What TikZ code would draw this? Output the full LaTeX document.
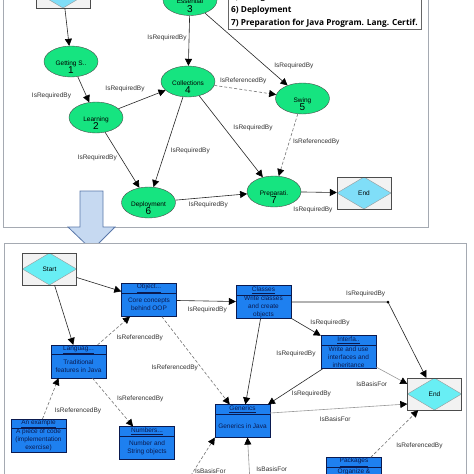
\documentclass[tikz,border=0pt]{standalone}
\usepackage{fontspec}
\setmainfont{Liberation Sans}
\newfontfamily\legendfont{Open Sans}
\usetikzlibrary{arrows.meta,shapes.geometric,shapes.multipart}

\definecolor{topicgreen}{RGB}{22,228,128}
\definecolor{conceptblue}{RGB}{30,128,240}
\definecolor{conceptline}{RGB}{10,26,80}
\definecolor{topcyan}{RGB}{128,222,248}
\definecolor{botcyan}{RGB}{104,238,244}
\definecolor{arrowfill}{RGB}{198,217,241}
\definecolor{arrowline}{RGB}{90,120,170}
\definecolor{panelline}{RGB}{165,170,178}

% two-line text of a topic oval: name, then its number
\newcommand\ovaltext[2]{\smash{\makebox[0pt]{\raisebox{-3.5pt}{\begin{tabular}[t]{@{}c@{}}#1\\[-0.5pt]{\fontsize{10}{10}\selectfont #2}\end{tabular}}}}}
% parts of a concept box
\newcommand\ctitle[1]{\parbox[c][9pt][c]{55pt}{\centering\underline{#1}}}
\newcommand\cbody[1]{\parbox[c][23pt][c]{55pt}{\centering #1}}

\begin{document}
\begin{tikzpicture}[x=1pt, y=-1pt,
		font=\fontsize{6.5}{8}\selectfont,
		every node/.style={
				font=\fontsize{6.5}{8}\selectfont,
			},
		>={Triangle[length=7pt,width=7pt,color=black]},
		topic/.style={ellipse, draw=black!70, fill=topicgreen, minimum width=54pt, minimum height=31pt, inner sep=0pt},
		concept/.style={rectangle split, rectangle split parts=2, draw=conceptline, fill=conceptblue, text=conceptline, inner sep=0pt},
		terminal/.style={draw=black!70, fill=black!5, minimum width=54pt, minimum height=32pt, inner sep=0pt,
				path picture={\draw[black!40, fill=#1] (path picture bounding box.north) -- (path picture bounding box.east) -- (path picture bounding box.south) -- (path picture bounding box.west) -- cycle;}},
		lbl/.style={text=black!80, inner sep=0pt},
		req/.style={->, black!85, line width=0.6pt},
		refd/.style={->, black!55, line width=0.6pt, dash pattern=on 3pt off 2pt},
		basis/.style={->, black!40, line width=0.6pt},
	]
	\useasboundingbox (0,0) rectangle (474,474);

	% upper panel: topics
	\draw[panelline, fill=white, line width=0.8pt] (3,-10) rectangle (428,227);
	\node[draw=black!60, fill=white, anchor=south west, align=left, inner xsep=3pt, inner ysep=1.5pt,
		font=\legendfont\bfseries\fontsize{8.3}{13}\selectfont] (legend) at (228,29)
	{5) Swing\\6) Deployment\\7) Preparation for Java Program. Lang. Certif.};

	\node[terminal=topcyan] (startA) at (63,-8) {};
	\node[topic] (gs) at (71,61.5) {\ovaltext{Getting S..}{1}};
	\node[topic] (ess) at (190,0) {\ovaltext{Essential}{3}};
	\node[topic] (coll) at (188,81.5) {\ovaltext{Collections}{4}};
	\node[topic] (lrn) at (96,117.5) {\ovaltext{Learning}{2}};
	\node[topic] (swing) at (302.5,98.5) {\ovaltext{Swing}{5}};
	\node[topic] (dep) at (148.5,202.5) {\ovaltext{Deployment}{6}};
	\node[topic] (prep) at (274,191.5) {\ovaltext{Preparati.}{7}};
	\node[terminal=topcyan] (endA) at (364,193) {End};

	\draw[req] (startA) -- (gs);
	\draw[req] (ess) -- node[lbl, shift={(-22,-3)}] {IsRequiredBy} (coll);
	\draw[req] (ess) -- node[lbl, pos=.75, shift={(27,-2)}] {IsRequiredBy} (swing);
	\draw[req] (gs) -- node[lbl, shift={(-32,6.5)}] {IsRequiredBy} (lrn);
	\draw[req] (lrn) -- node[lbl, shift={(-17,-10.5)}] {IsRequiredBy} (coll);
	\draw[refd] (coll) -- node[lbl, shift={(-2,-9)}] {IsReferencedBy} (swing);
	\draw[req] (coll) -- node[lbl, shift={(22,9)}] {IsRequiredBy} (dep);
	\draw[req] (coll) -- node[lbl, shift={(22,-8.5)}] {IsRequiredBy} (prep);
	\draw[req] (lrn) -- node[lbl, shift={(-25,-2)}] {IsRequiredBy} (dep);
	\draw[refd] (swing) -- node[lbl, shift={(28,-3)}] {IsReferencedBy} (prep);
	\draw[req] (dep) -- node[lbl, shift={(-3,8)}] {IsRequiredBy} (prep);
	\draw[req] (prep) -- node[lbl, shift={(-6,18)}] {IsRequiredBy} (endA);

	% big arrow between the panels
	\draw[arrowline, fill=arrowfill, line width=0.8pt] (80,191) -- (103,191) -- (103,227) -- (115,227) -- (92,250) -- (68,227) -- (80,227) -- cycle;

	% lower panel: concepts
	\draw[panelline, fill=white, line width=0.8pt] (4,243) rectangle (466,490);

	\node[terminal=botcyan] (startB) at (49.5,269) {Start};
	\node[concept] (obj) at (149,300) {\ctitle{Object...}\nodepart{two}\cbody{Core concepts\\behind OOP}};
	\node[concept] (cls) at (263.5,302) {\ctitle{Classes}\nodepart{two}\cbody{Write classes\\and create\\objects}};
	\node[concept] (intf) at (348.5,352) {\ctitle{Interfa..}\nodepart{two}\cbody{Write and use\\interfaces and\\inheritance}};
	\node[concept] (lang) at (78.5,361.5) {\ctitle{Languag...}\nodepart{two}\cbody{Traditional\\features in Java}};
	\node[concept] (ex) at (38.5,435.5) {\ctitle{An example}\nodepart{two}\cbody{A piece of code\\(implementation\\exercise)}};
	\node[concept] (num) at (147,443) {\ctitle{Numbers...}\nodepart{two}\cbody{Number and\\String objects}};
	\node[concept] (gen) at (242.5,421) {\ctitle{Generics}\nodepart{two}\cbody{Generics in Java}};
	\node[concept] (pkg) at (354,474) {\ctitle{Packages}\nodepart{two}\cbody{Organize \&\\\mbox{}\\\mbox{}}};
	\node[terminal=botcyan] (endB) at (434.5,394) {End};

	\coordinate (knee) at (388,302);
	\coordinate (srcA) at (188,480);
	\coordinate (srcB) at (250,482);

	\draw[req] (startB) -- (obj);
	\draw[req] (startB) -- (lang);
	\draw[req] (obj) -- node[lbl, shift={(1,9)}] {IsRequiredBy} (cls);
	\draw[refd] (lang) -- node[lbl, shift={(26,7)}] {IsReferencedBy} (obj);
	\draw[refd] (obj) -- node[lbl, shift={(-21,7)}] {IsReferencedBy} (gen);
	\draw[req] (cls) -- node[lbl, pos=.77, shift={(0,-8)}] {IsRequiredBy} (knee) -- (endB);
	\fill (knee) circle (1.5pt);
	\draw[req] (cls) -- node[lbl, shift={(24,-4)}] {IsRequiredBy} (intf);
	\draw[req] (cls) -- node[lbl, shift={(43,-7.5)}] {IsRequiredBy} (gen);
	\draw[req] (intf) -- node[lbl, shift={(16,7.5)}] {IsRequiredBy} (gen);
	\draw[basis] (intf) -- node[lbl, shift={(-20,8.5)}] {IsBasisFor} ([yshift=10pt]endB.west);
	\draw[basis] ([yshift=8pt]gen.east) -- node[lbl, shift={(-3.5,10.5)}] {IsBasisFor} ([yshift=-10pt]endB.west);
	\draw[refd] (pkg) -- node[lbl, shift={(25,12)}] {IsReferencedBy} (endB);
	\draw[refd] (srcA) -- node[lbl, pos=.2, shift={(17,0)}] {IsBasisFor} (gen.south west);
	\draw[basis] (srcB) -- node[lbl, pos=.3, shift={(22.5,0)}] {IsBasisFor} ([xshift=5pt]gen.south);
	\draw[refd] ([xshift=4pt]ex.north) -- node[lbl, pos=.19, shift={(32.5,0)}] {IsReferencedBy} ([xshift=-20pt]lang.south);
	\draw[refd] (lang) -- node[lbl, shift={(27.5,-3)}] {IsReferencedBy} (num);
\end{tikzpicture}
\end{document}
